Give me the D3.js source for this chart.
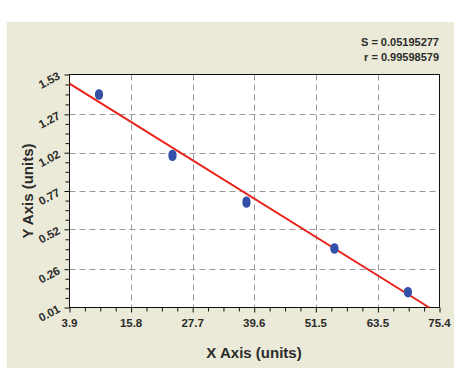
<!DOCTYPE html>
<html>
<head>
<meta charset="utf-8">
<script src="https://cdn.jsdelivr.net/npm/d3@7"></script>
<style>
  body { margin: 0; background: #fff; }
  svg text { font-family: "Liberation Sans", Arial, sans-serif; font-weight: bold; fill: #2b2b2b; }
</style>
</head>
<body>
<svg width="459" height="368"></svg>
<script>
// Chart data
var xTicks = [3.9, 15.8, 27.7, 39.6, 51.5, 63.5, 75.4];
var yTicks = [0.01, 0.26, 0.52, 0.77, 1.02, 1.27, 1.53];
var yTickLabels = ["0.01", "0.26", "0.52", "0.77", "1.02", "1.27", "1.53"];
var stdX = [9.6, 9.6, 23.8, 23.8, 38.1, 38.1, 55.1, 55.1, 69.3, 69.3];
var stdY = [1.405, 1.395, 1.01, 0.995, 0.705, 0.69, 0.40, 0.39, 0.115, 0.105];
var fitSlope = -0.02102;   // fitted line
var fitIntercept = 1.553;
var statLines = ["S = 0.05195277", "r = 0.99598579"];

var svg = d3.select('svg');
var m = {left: 69.5, top: 74.5, right: 439.5, bottom: 307.5};

// beige panel
svg.append('rect')
    .attr('x', 7).attr('y', 22).attr('width', 447).attr('height', 346)
    .attr('fill', '#ebead8');

var x = d3.scaleLinear().domain([xTicks[0], xTicks[xTicks.length - 1]]).range([m.left, m.right]);
var y = d3.scaleLinear().domain([yTicks[0], yTicks[yTicks.length - 1]]).range([m.bottom, m.top]);

svg.append('rect')
    .attr('x', m.left).attr('y', m.top)
    .attr('width', m.right - m.left).attr('height', m.bottom - m.top)
    .attr('fill', '#fff');

// dashed grid
var grid = svg.append('g').attr('stroke', '#999').attr('stroke-dasharray', '6,4').attr('stroke-width', 1);
grid.selectAll('line.vx').data(xTicks.slice(1, -1)).enter().append('line')
    .attr('x1', function(d) { return Math.round(x(d)) + 0.5; })
    .attr('x2', function(d) { return Math.round(x(d)) + 0.5; })
    .attr('y1', m.top).attr('y2', m.bottom);
grid.selectAll('line.hy').data(yTicks.slice(1, -1)).enter().append('line')
    .attr('y1', function(d) { return Math.round(y(d)) + 0.5; })
    .attr('y2', function(d) { return Math.round(y(d)) + 0.5; })
    .attr('x1', m.left).attr('x2', m.right);

// minor ticks (4 per major interval)
function minors(t) {
    var out = [];
    for (var i = 0; i < t.length - 1; i++)
        for (var k = 1; k < 4; k++) out.push(t[i] + (t[i + 1] - t[i]) * k / 4);
    return out;
}

svg.append('g').attr('transform', 'translate(0,' + m.bottom + ')')
    .call(d3.axisBottom(x).tickValues(xTicks).tickSize(5).tickFormat(''));
svg.append('g').attr('transform', 'translate(0,' + m.bottom + ')')
    .call(d3.axisBottom(x).tickValues(minors(xTicks)).tickSize(4).tickFormat(''));
svg.append('g').attr('transform', 'translate(' + m.left + ',0)')
    .call(d3.axisLeft(y).tickValues(yTicks).tickSize(5).tickFormat(''));
svg.append('g').attr('transform', 'translate(' + m.left + ',0)')
    .call(d3.axisLeft(y).tickValues(minors(yTicks)).tickSize(4).tickFormat(''));
svg.selectAll('.domain').remove();
svg.selectAll('.tick line').attr('stroke', '#111');

// x tick labels
svg.selectAll('text.xl').data(xTicks).enter().append('text')
    .attr('x', function(d) { return x(d); })
    .attr('y', 327)
    .attr('text-anchor', 'middle')
    .attr('font-size', 11.5)
    .text(function(d) { return d.toFixed(1); });

// y tick labels, tilted
svg.selectAll('text.yl').data(yTicks).enter().append('text')
    .attr('transform', function(d) { return 'translate(61,' + (y(d) + 4) + ') rotate(-28)'; })
    .attr('text-anchor', 'end')
    .attr('font-size', 11.5)
    .text(function(d, i) { return yTickLabels[i]; });

// plot frame
svg.append('rect')
    .attr('x', m.left).attr('y', m.top)
    .attr('width', m.right - m.left).attr('height', m.bottom - m.top)
    .attr('fill', 'none').attr('stroke', '#111').attr('stroke-width', 1);

// fitted line, from left edge down to bottom of y range
var xEnd = (yTicks[0] - fitIntercept) / fitSlope;
svg.append('line')
    .attr('x1', x(xTicks[0])).attr('y1', y(fitIntercept + fitSlope * xTicks[0]))
    .attr('x2', x(xEnd)).attr('y2', y(fitIntercept + fitSlope * xEnd))
    .attr('stroke', '#e8221a').attr('stroke-width', 2);

// standards
svg.selectAll('ellipse').data(stdX).enter().append('ellipse')
    .attr('cx', function(d) { return x(d); })
    .attr('cy', function(d, i) { return y(stdY[i]); })
    .attr('rx', 4).attr('ry', 4.5)
    .attr('fill', '#3250a8');

// stats
svg.selectAll('text.st').data(statLines).enter().append('text')
    .attr('x', 439).attr('y', function(d, i) { return 46 + i * 14.5; })
    .attr('text-anchor', 'end')
    .attr('font-size', 11)
    .text(function(d) { return d; });

// axis titles
svg.append('text')
    .attr('x', 254).attr('y', 358)
    .attr('text-anchor', 'middle').attr('font-size', 15)
    .text('X Axis (units)');
svg.append('text')
    .attr('transform', 'translate(33,' + 191 + ') rotate(-90)')
    .attr('text-anchor', 'middle').attr('font-size', 15)
    .text('Y Axis (units)');
</script>
</body>
</html>
